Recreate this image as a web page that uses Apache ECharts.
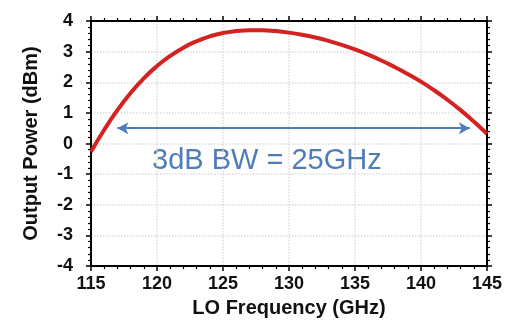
<!DOCTYPE html>
<html>
<head>
<meta charset="utf-8">
<script src="https://cdn.jsdelivr.net/npm/echarts@6/dist/echarts.min.js"></script>
<style>
  html, body { margin: 0; padding: 0; background: #fff; }
  #chart { width: 505px; height: 323px; }
</style>
</head>
<body>
<div id="chart"></div>
<script>
// 数据
var freq = [115, 116, 117, 118, 119, 120, 121, 122, 123, 124, 125, 126, 127, 128, 129, 130,
            131, 132, 133, 134, 135, 136, 137, 138, 139, 140, 141, 142, 143, 144, 145];
var power = [-0.27, 0.45, 1.09, 1.65, 2.13, 2.53, 2.86, 3.13, 3.34, 3.5, 3.61, 3.67, 3.7, 3.7, 3.67, 3.62,
             3.55, 3.46, 3.35, 3.22, 3.07, 2.9, 2.71, 2.5, 2.27, 2.02, 1.74, 1.43, 1.09, 0.72, 0.32];
var bwArrow = [[117, 0.5], [143.7, 0.5]];
var bwText = '3dB BW = 25GHz';
var xName = 'LO Frequency (GHz)';
var yName = 'Output Power (dBm)';

var font = 'Liberation Sans, Arial, sans-serif';
var chart = echarts.init(document.getElementById('chart'), null, { renderer: 'canvas' });

// 坐标轴公共样式
function axisBase(show) {
  return {
    axisLine: { show: true, onZero: false, lineStyle: { color: '#000', width: 2 } },
    axisTick: { show: true, inside: false, length: 5, lineStyle: { color: '#000', width: 1.5 } },
    minorTick: { show: true, splitNumber: 5, length: 3, lineStyle: { color: '#000', width: 1.2 } },
    axisLabel: { show: show, color: '#111', fontFamily: font, fontWeight: 'bold', fontSize: 18 }
  };
}

var xBottom = Object.assign(axisBase(true), {
  type: 'value', position: 'bottom', min: 115, max: 145, interval: 5,
  name: xName, nameLocation: 'middle', nameGap: 30,
  nameTextStyle: { color: '#111', fontFamily: font, fontWeight: 'bold', fontSize: 20 },
  splitLine: { show: true, lineStyle: { color: '#dcdcdc', type: 'dotted', width: 1.5 } }
});
xBottom.axisLabel.margin = 9;
var xTop = Object.assign(axisBase(false), {
  type: 'value', position: 'top', min: 115, max: 145, interval: 5, splitLine: { show: false }
});
var yLeft = Object.assign(axisBase(true), {
  type: 'value', position: 'left', min: -4, max: 4, interval: 1,
  name: yName, nameLocation: 'middle', nameGap: 50, nameRotate: 90,
  nameTextStyle: { color: '#111', fontFamily: font, fontWeight: 'bold', fontSize: 20 },
  splitLine: { show: true, lineStyle: { color: '#dcdcdc', type: 'dotted', width: 1.5 } }
});
yLeft.axisLabel.margin = 18;
var yRight = Object.assign(axisBase(false), {
  type: 'value', position: 'right', min: -4, max: 4, interval: 1, splitLine: { show: false }
});

chart.setOption({
  animation: false,
  backgroundColor: '#fff',
  grid: { left: 91, right: 17, top: 21, bottom: 54 },
  xAxis: [xBottom, xTop],
  yAxis: [yLeft, yRight],
  series: [{
    type: 'line',
    xAxisIndex: 0,
    yAxisIndex: 0,
    smooth: true,
    showSymbol: false,
    data: freq.map(function (f, i) { return [f, power[i]]; }),
    lineStyle: { color: '#d42222', width: 4 },
    z: 5,
    markLine: {
      silent: true,
      symbol: ['arrow', 'arrow'],
      symbolSize: [9, 11],
      label: { show: false },
      lineStyle: { color: '#4f7db8', width: 1.8, type: 'solid' },
      data: [[{ coord: bwArrow[0] }, { coord: bwArrow[1] }]]
    }
  }],
  graphic: [{
    type: 'text',
    left: 152,
    top: 146,
    style: { text: bwText, fill: '#4f7db8', fontFamily: font, fontSize: 29 }
  }]
});
</script>
</body>
</html>
